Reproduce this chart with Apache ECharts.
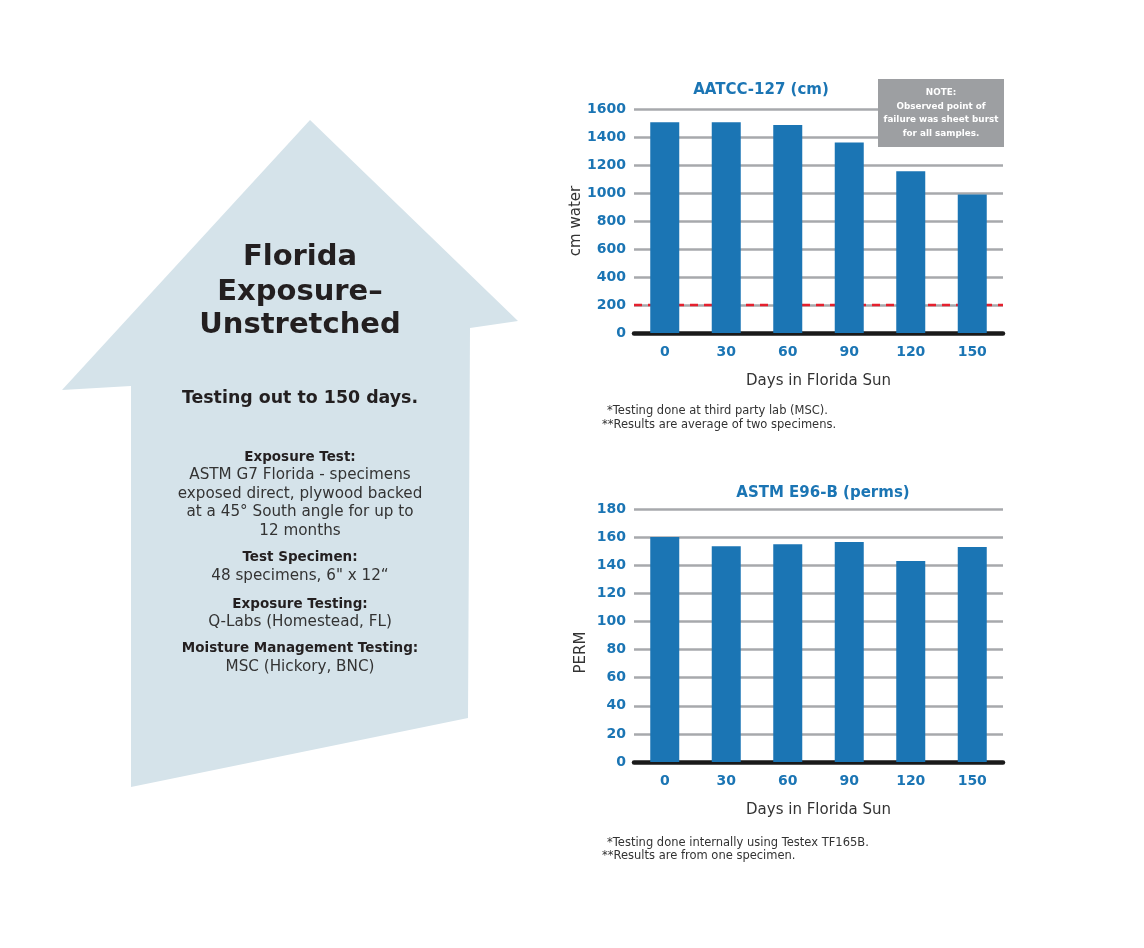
<!DOCTYPE html>
<html>
<head>
<meta charset="utf-8">
<script src="https://cdn.jsdelivr.net/npm/echarts@6/dist/echarts.min.js"></script>
<style>
  html, body { margin: 0; padding: 0; background: #fff; }
  #chart { width: 1144px; height: 948px; }
</style>
</head>
<body>
<div id="chart"></div>
<script>
// data
const days = ["0", "30", "60", "90", "120", "150"];
const aatccValues = [1505, 1505, 1485, 1360, 1155, 990];
const permValues = [160, 153.5, 155, 156.5, 143, 153];
const aatccTicks = [0, 200, 400, 600, 800, 1000, 1200, 1400, 1600];
const permTicks = [0, 20, 40, 60, 80, 100, 120, 140, 160, 180];
const failLimit = 200;

const FONT = "DejaVu Sans";
const BLUE = "#1b75b4";
const DARK = "#231f20";
const TEXT = "#333333";
const GRID = "#a7a9ac";

const chart = echarts.init(document.getElementById("chart"));

function yAxisFor(ticks, name, gridIndex, padRight) {
  return {
    type: "value",
    gridIndex: gridIndex,
    min: ticks[0],
    max: ticks[ticks.length - 1],
    interval: ticks[1] - ticks[0],
    name: name,
    nameLocation: "middle",
    nameGap: 45,
    nameRotate: 90,
    nameTextStyle: { fontFamily: FONT, fontSize: 15, color: TEXT, padding: [0, padRight, 0, 0] },
    axisLine: { show: false },
    axisTick: { show: false },
    axisLabel: {
      fontFamily: FONT, fontSize: 14, fontWeight: "bold", color: BLUE, margin: 8,
      formatter: (v) => String(v)
    },
    splitLine: { lineStyle: { color: GRID, width: 2.5 } }
  };
}

function xAxisFor(gridIndex) {
  return {
    type: "category",
    gridIndex: gridIndex,
    data: days,
    name: "Days in Florida Sun",
    nameLocation: "middle",
    nameGap: 41,
    nameTextStyle: { fontFamily: FONT, fontSize: 15, color: TEXT },
    axisLine: { lineStyle: { color: "#1a1a1a", width: 4.5 } },
    axisTick: { show: false },
    axisLabel: { fontFamily: FONT, fontSize: 14, fontWeight: "bold", color: BLUE, margin: 12 }
  };
}

// hidden 0..1 axis so the limit line runs edge to edge of the top plot
const limitAxis = {
  type: "value", gridIndex: 0, min: 0, max: 1, show: false
};

const house = [
  [310, 120], [518, 321], [470, 328], [468, 718],
  [131, 787], [131, 386], [62, 390]
];

function centerText(txt, y, size, bold, color) {
  return {
    type: "text",
    x: 300, y: y,
    style: {
      text: txt, fontFamily: FONT, fontSize: size,
      fontWeight: bold ? "bold" : "normal",
      fill: color, align: "center", verticalAlign: "middle"
    }
  };
}

const option = {
  animation: false,
  backgroundColor: "#ffffff",
  title: [
    { text: "AATCC-127 (cm)", left: 756, top: 78, textAlign: "center",
      textStyle: { fontFamily: FONT, fontSize: 15, fontWeight: "bold", color: BLUE } },
    { text: "ASTM E96-B (perms)", left: 818, top: 481, textAlign: "center",
      textStyle: { fontFamily: FONT, fontSize: 15, fontWeight: "bold", color: BLUE } }
  ],
  grid: [
    { left: 634, right: 141, top: 109, height: 224 },
    { left: 634, right: 141, top: 509, height: 253 }
  ],
  xAxis: [xAxisFor(0), xAxisFor(1), limitAxis],
  yAxis: [yAxisFor(aatccTicks, "cm water", 0, 0), yAxisFor(permTicks, "PERM", 1, 34)],
  series: [
    {
      type: "line", xAxisIndex: 2, yAxisIndex: 0, z: 1, silent: true,
      data: [[0, failLimit], [1, failLimit]],
      symbol: "none",
      lineStyle: { color: "#e5202e", width: 2.5, type: [8, 6] }
    },
    {
      type: "bar", xAxisIndex: 0, yAxisIndex: 0, data: aatccValues, z: 3,
      barWidth: 29, itemStyle: { color: BLUE }
    },
    {
      type: "bar", xAxisIndex: 1, yAxisIndex: 1, data: permValues, z: 3,
      barWidth: 29, itemStyle: { color: BLUE }
    }
  ],
  graphic: [
    { type: "polygon", z: -10, shape: { points: house }, style: { fill: "#d5e3ea" } },
    centerText("Florida", 257, 29, true, DARK),
    centerText("Exposure\u2013", 292, 29, true, DARK),
    centerText("Unstretched", 325, 29, true, DARK),
    centerText("Testing out to 150 days.", 398, 17.4, true, DARK),
    centerText("Exposure Test:", 457, 13.5, true, DARK),
    centerText("ASTM G7 Florida - specimens", 475, 15.2, false, TEXT),
    centerText("exposed direct, plywood backed", 494, 15.2, false, TEXT),
    centerText("at a 45\u00b0 South angle for up to", 512, 15.2, false, TEXT),
    centerText("12 months", 531, 15.2, false, TEXT),
    centerText("Test Specimen:", 557, 13.5, true, DARK),
    centerText("48 specimens, 6\" x 12\u201c", 576, 15.2, false, TEXT),
    centerText("Exposure Testing:", 604, 13.5, true, DARK),
    centerText("Q-Labs (Homestead, FL)", 622, 15.2, false, TEXT),
    centerText("Moisture Management Testing:", 648, 13.5, true, DARK),
    centerText("MSC (Hickory, BNC)", 667, 15.2, false, TEXT),
    { type: "rect", z: 10, shape: { x: 878, y: 79, width: 126, height: 68 }, style: { fill: "#9d9fa2" } },
    { type: "text", z: 11, x: 941, y: 113,
      style: { text: "NOTE:\nObserved point of\nfailure was sheet burst\nfor all samples.",
        fontFamily: FONT, fontSize: 8.8, fontWeight: "bold", fill: "#ffffff",
        align: "center", verticalAlign: "middle", lineHeight: 13.5 } },
    { type: "text", x: 607, y: 405,
      style: { text: "*Testing done at third party lab (MSC).", fontFamily: FONT, fontSize: 11.5, fill: TEXT } },
    { type: "text", x: 602, y: 419,
      style: { text: "**Results are average of two specimens.", fontFamily: FONT, fontSize: 11.5, fill: TEXT } },
    { type: "text", x: 607, y: 837,
      style: { text: "*Testing done internally using Testex TF165B.", fontFamily: FONT, fontSize: 11.5, fill: TEXT } },
    { type: "text", x: 602, y: 850,
      style: { text: "**Results are from one specimen.", fontFamily: FONT, fontSize: 11.5, fill: TEXT } }
  ]
};

chart.setOption(option);
</script>
</body>
</html>
